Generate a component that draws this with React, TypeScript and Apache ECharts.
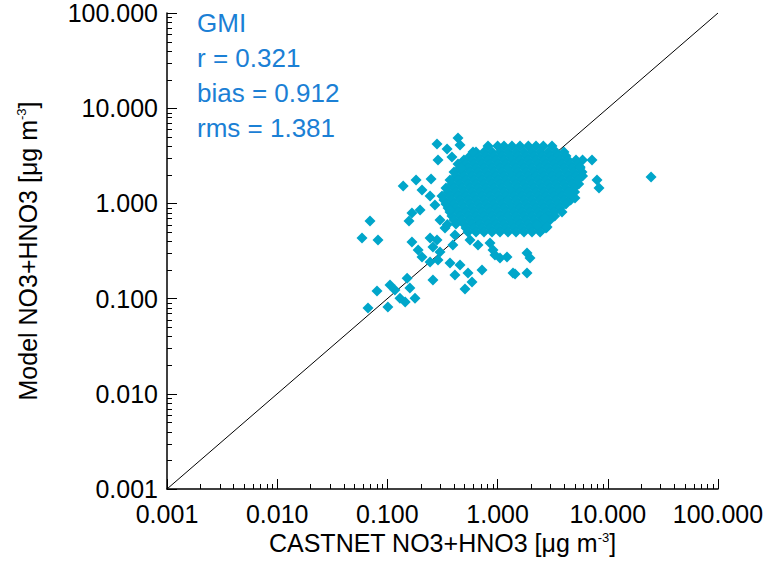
import React, { useEffect, useRef } from "react";
import * as echarts from "echarts";

const FONT = '"Liberation Sans", Arial, Helvetica, sans-serif';
const MARKER_COLOR = "#00A6CA";
const TEXT_BLUE = "#1B80D5";

const axisMin = 0.001;
const axisMax = 100;
const statsLabels = ["GMI", "r = 0.321", "bias = 0.912", "rms = 1.381"];
const xTitle = "CASTNET NO3+HNO3 [μg m";
const yTitle = "Model NO3+HNO3 [μg m";

// dense core of the cloud: [model value, castnet values along that row]
const coreRows: [number, number[]][] = [
  [4.0, [0.818, 1.0, 1.143, 1.35, 1.597, 1.9, 2.231, 2.6, 3.117]],
  [3.47, [0.637, 0.753, 0.89, 1.052, 1.243, 1.469, 1.736, 2.052, 2.43, 2.867, 3.389, 4.005]],
  [3.15, [0.562, 0.664, 0.785, 0.927, 1.096, 1.297, 1.53, 1.81, 2.14, 2.53, 2.99, 3.53, 4.17]],
  [2.86, [0.495, 0.586, 0.692, 0.818, 0.967, 1.143, 1.351, 1.597, 1.888, 2.231, 2.637, 3.117, 3.68, 4.354, 5.145, 5.9]],
  [2.59, [0.437, 0.517, 0.611, 0.722, 0.853, 1.008, 1.191, 1.41, 1.665, 1.968, 2.33, 2.75, 3.25, 3.84, 4.54, 5.36]],
  [2.35, [0.456, 0.539, 0.637, 0.753, 0.89, 1.052, 1.243, 1.469, 1.736, 2.052, 2.43, 2.867, 3.389, 4.005, 4.733, 5.6]],
  [2.14, [0.402, 0.475, 0.562, 0.664, 0.785, 0.927, 1.096, 1.297, 1.53, 1.81, 2.14, 2.53, 2.99, 3.53, 4.17, 4.93, 5.83]],
  [1.94, [0.419, 0.495, 0.586, 0.692, 0.818, 0.967, 1.143, 1.351, 1.597, 1.888, 2.231, 2.637, 3.117, 3.68, 4.354, 5.145, 5.9]],
  [1.76, [0.37, 0.437, 0.517, 0.611, 0.722, 0.853, 1.008, 1.191, 1.41, 1.665, 1.968, 2.33, 2.75, 3.25, 3.84, 4.54, 5.36]],
  [1.6, [0.385, 0.456, 0.539, 0.637, 0.753, 0.89, 1.052, 1.243, 1.469, 1.736, 2.052, 2.43, 2.867, 3.389, 4.005, 4.733, 5.45]],
  [1.45, [0.34, 0.402, 0.475, 0.562, 0.664, 0.785, 0.927, 1.096, 1.297, 1.53, 1.81, 2.14, 2.53, 2.99, 3.53, 4.17, 4.93]],
  [1.318, [0.355, 0.419, 0.495, 0.586, 0.692, 0.818, 0.967, 1.143, 1.351, 1.597, 1.888, 2.231, 2.637, 3.117, 3.68, 4.354, 5.0]],
  [1.196, [0.3128, 0.37, 0.437, 0.517, 0.611, 0.722, 0.853, 1.008, 1.191, 1.41, 1.665, 1.968, 2.33, 2.75, 3.25, 3.84, 4.54]],
  [1.086, [0.326, 0.385, 0.456, 0.539, 0.637, 0.753, 0.89, 1.052, 1.243, 1.469, 1.736, 2.052, 2.43, 2.867, 3.389, 4.005, 4.6]],
  [0.986, [0.34, 0.402, 0.475, 0.562, 0.664, 0.785, 0.927, 1.096, 1.297, 1.53, 1.81, 2.14, 2.53, 2.99, 3.53, 4.17]],
  [0.895, [0.355, 0.419, 0.495, 0.586, 0.692, 0.818, 0.967, 1.143, 1.351, 1.597, 1.888, 2.231, 2.637, 3.117, 3.68]],
  [0.812, [0.37, 0.437, 0.517, 0.611, 0.722, 0.853, 1.008, 1.191, 1.41, 1.665, 1.968, 2.33, 2.75, 3.25, 3.84]],
  [0.738, [0.385, 0.456, 0.539, 0.637, 0.753, 0.89, 1.052, 1.243, 1.469, 1.736, 2.052, 2.43, 2.867, 3.3]],
  [0.67, [0.402, 0.475, 0.562, 0.664, 0.785, 0.927, 1.096, 1.297, 1.53, 1.81, 2.14, 2.53, 2.99]],
  [0.608, [0.419, 0.495, 0.586, 0.692, 0.818, 0.967, 1.143, 1.351, 1.597, 1.888, 2.231, 2.637]],
  [0.552, [0.517, 0.611, 0.722, 0.853, 1.008, 1.191, 1.41, 1.665, 1.968, 2.33, 2.75]],
  [0.501, [0.539, 0.637, 0.753, 0.89, 1.052, 1.243, 1.469, 1.736, 2.052, 2.43]],
];

// scattered points around the core: [castnet, model]
const outerPoints: [number, number][] = [
  [24.7, 1.89], [7.19, 2.86], [7.98, 1.76], [8.32, 1.45], [5.04, 1.14], [4.54, 1.29], [5.6, 2.41],
  [0.282, 4.21], [0.348, 3.73], [0.437, 4.86], [0.456, 4.1], [0.385, 3.07], [0.288, 2.86], [0.598, 3.47], [0.466, 2.35],
  [0.249, 1.8], [0.182, 1.76], [0.139, 1.52], [0.206, 1.38], [0.244, 1.196], [0.27, 0.962], [0.167, 0.793], [0.198, 0.853],
  [0.0695, 0.653], [0.0588, 0.433], [0.0822, 0.413], [0.157, 0.653], [0.167, 0.393], [0.19, 0.324], [0.206, 0.274],
  [0.244, 0.433], [0.259, 0.348], [0.3, 0.309], [0.244, 0.242], [0.288, 0.254], [0.37, 0.236], [0.456, 0.225],
  [0.41, 0.177], [0.539, 0.186], [0.586, 0.149], [0.506, 0.126], [0.259, 0.157], [0.151, 0.164], [0.16, 0.129],
  [0.1056, 0.139], [0.117, 0.123], [0.0805, 0.12], [0.13, 0.101], [0.145, 0.092], [0.178, 0.101], [0.101, 0.0816],
  [0.0667, 0.0796], [0.282, 0.413], [0.393, 0.366],
  [0.853, 0.384], [0.946, 0.287], [1.217, 0.274], [1.849, 0.301], [1.38, 0.186], [1.849, 0.186], [0.562, 0.413],
  [0.664, 0.366], [2.69, 0.703], [2.81, 0.565], [2.28, 0.593], [1.968, 0.267], [1.44, 0.181], [0.722, 0.2],
  [1.052, 0.267], [0.908, 0.324],
  [0.333, 0.552], [0.41, 0.466], [0.37, 0.853], [0.3, 0.67], [0.35, 0.6],
];

const minorMultipliers = [2, 3, 4, 5, 6, 7, 8, 9];
const decades = [0.001, 0.01, 0.1, 1, 10];

export default function App() {
  const ref = useRef<HTMLDivElement>(null);
  useEffect(() => {
    if (!ref.current) return;
    const chart = echarts.init(ref.current, null, { renderer: "svg" });

    const points: [number, number][] = [];
    coreRows.forEach(([y, xs]) => xs.forEach((x) => points.push([x, y])));
    outerPoints.forEach((p) => points.push(p));

    const minorTicks: number[] = [];
    decades.forEach((d) => minorMultipliers.forEach((m) => minorTicks.push(d * m)));

    const nameRich = {
      a: { fontSize: 25, fontFamily: FONT, color: "#000" },
      b: { fontSize: 13, fontFamily: FONT, color: "#000", verticalAlign: "top" as const },
    };

    const baseAxis = {
      type: "log" as const,
      logBase: 10,
      min: axisMin,
      max: axisMax,
      nameLocation: "middle" as const,
      axisLine: { show: true, lineStyle: { color: "#000", width: 1.5 } },
      axisTick: { show: true, inside: true, length: 10, lineStyle: { color: "#000", width: 1 } },
      minorTick: { show: false },
      splitLine: { show: false },
      axisLabel: {
        color: "#000",
        fontSize: 25,
        fontFamily: FONT,
        formatter: (v: number) => Number(v).toFixed(3),
      },
    };

    chart.setOption({
      animation: false,
      backgroundColor: "#fff",
      grid: { left: 167, right: 58, top: 13, bottom: 74 },
      xAxis: {
        ...baseAxis,
        name: `{a|${xTitle}}{b|-3}{a|]}`,
        nameGap: 40,
        nameTextStyle: { rich: nameRich },
        axisLabel: { ...baseAxis.axisLabel, margin: 12 },
      },
      yAxis: {
        ...baseAxis,
        name: `{a|${yTitle}}{b|-3}{a|]}`,
        nameGap: 127,
        nameTextStyle: { rich: nameRich },
        axisLabel: { ...baseAxis.axisLabel, margin: 9 },
      },
      graphic: statsLabels.map((t, i) => ({
        type: "text",
        x: 197,
        y: [23, 58, 93, 128][i],
        style: { text: t, fill: TEXT_BLUE, fontSize: 26, fontFamily: FONT, verticalAlign: "middle" },
      })),
      series: [
        {
          type: "line",
          data: [[axisMin, axisMin], [axisMax, axisMax]],
          symbol: "none",
          lineStyle: { color: "#000", width: 1 },
          z: 1,
          silent: true,
        },
        {
          type: "scatter",
          data: points,
          symbol: "diamond",
          symbolSize: 11,
          itemStyle: { color: MARKER_COLOR, opacity: 1 },
          z: 2,
          silent: true,
        },
        {
          type: "custom",
          data: minorTicks,
          clip: false,
          silent: true,
          z: 3,
          renderItem: (_p: any, api: any) => {
            const v = api.value(0);
            const px = api.coord([v, axisMin]);
            const py = api.coord([axisMin, v]);
            const xx = Math.round(px[0]) + 0.5;
            const yy = Math.round(py[1]) + 0.5;
            return {
              type: "group",
              children: [
                { type: "line", shape: { x1: xx, y1: px[1], x2: xx, y2: px[1] - 5 }, style: { stroke: "#000", lineWidth: 1 } },
                { type: "line", shape: { x1: py[0], y1: yy, x2: py[0] + 5, y2: yy }, style: { stroke: "#000", lineWidth: 1 } },
              ],
            };
          },
          encode: { x: 0 },
        },
      ],
    });
    return () => chart.dispose();
  }, []);
  return <div ref={ref} style={{ position: "absolute", left: 0, top: 0, width: 776, height: 563 }} />;
}
